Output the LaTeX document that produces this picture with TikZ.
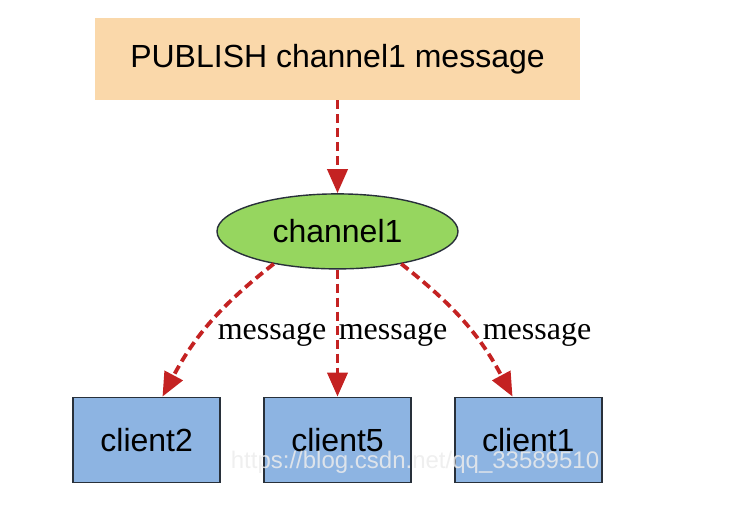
\documentclass[tikz,border=0pt]{standalone}
\usepackage{fontspec}
\setmainfont{Liberation Serif}
\setsansfont{Liberation Sans}
\usetikzlibrary{arrows.meta,positioning,shapes.geometric}
\definecolor{pubpeach}{RGB}{250,216,170}
\definecolor{chgreen}{RGB}{150,214,95}
\definecolor{cliblue}{RGB}{141,180,226}
\definecolor{msgred}{RGB}{196,34,34}
\definecolor{edgedark}{RGB}{40,48,58}
\tikzset{
  pubbox/.style={fill=pubpeach, minimum width=485pt, minimum height=82pt,
                 inner sep=0pt, font=\sffamily\fontsize{32}{38}\selectfont},
  chan/.style={ellipse, draw=edgedark, fill=chgreen, line width=1.4pt, inner sep=0pt,
               minimum width=241pt, minimum height=75pt, font=\sffamily\fontsize{32}{38}\selectfont},
  clibox/.style={draw=edgedark, fill=cliblue, line width=1.8pt, inner sep=0pt,
                 minimum width=147pt, minimum height=85pt, font=\sffamily\fontsize{32}{38}\selectfont},
  msg/.style={-{Triangle[length=24pt,width=20pt]}, line width=3.8pt, draw=msgred,
              dash pattern=on 9pt off 5pt},
  msglabel/.style={font=\fontsize{32}{38}\selectfont, inner sep=0pt},
}

\begin{document}
\begin{tikzpicture}[x=1pt, y=-1pt]
    \useasboundingbox (0,0) rectangle (740,521);
    \node[pubbox] (pub) at (337.5,59) {PUBLISH channel1 message};
    \node[chan, below=93pt of pub] (ch) {channel1};
    \node[clibox, below=127pt of ch] (c5) {client5};
    \node[clibox, left=42pt of c5] (c2) {client2};
    \node[clibox, right=42pt of c5] (c1) {client1};
    \draw[msg] (pub) -- (ch);
    \draw[msg] (ch.south) -- (c5.north);
    \draw[msg] (ch.-153) to[bend right=12] (c2.70);
    \draw[msg] (ch.-27) to[bend left=12] (c1.110);
    \node[msglabel] (l2) at (272,335) {message};
    \node[msglabel] (l5) at (393,335) {message};
    \node[msglabel] (l1) at (537,335) {message};
    \node[font=\sffamily\fontsize{24}{28}\selectfont, text=white!85!gray, opacity=0.85,
          inner sep=0pt] (wm) at (415,462) {https://blog.csdn.net/qq\_33589510};
  \end{tikzpicture}
\end{document}
